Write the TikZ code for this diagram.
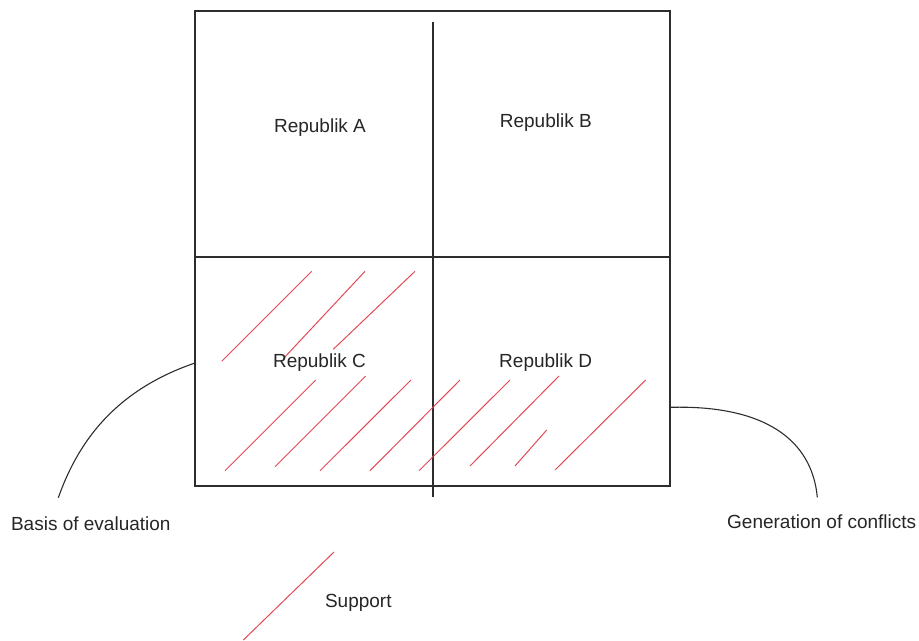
\documentclass[tikz,border=0pt]{standalone}
\usepackage{fontspec}
\setmainfont{Liberation Sans}
\usetikzlibrary{positioning}
\definecolor{hatchred}{RGB}{228,72,84}
\definecolor{framegray}{RGB}{45,45,45}

\begin{document}
\begin{tikzpicture} [x=0.5pt, y=-0.5pt, font=\fontsize{9.5}{11}\selectfont,
  tag/.style={anchor=base, inner sep=0pt, text=black!85},
  boxline/.style={draw=framegray, line width=0.65pt},
  hatch/.style={draw=hatchred, line width=0.5pt},
  lead/.style={draw=framegray, line width=0.55pt}]
\useasboundingbox (0,0) rectangle (919,641);
% the four quadrants
\draw [boxline] (195,11) rectangle (670,486);
\draw [boxline] (195,257) -- (670,257);
\draw [boxline] (433,22) -- (433,497);
% hatching
\foreach \xa/\ya/\xb/\yb in {221.7/361.3/311.7/271.3, 283.3/358.7/365/271.3, 333.3/349.3/415/271.3,
    225/470.7/315.7/380, 275/466.7/365.7/376, 320/470.7/411/380, 370/470.7/460/380,
    419/470.7/510/380, 470/466/559/376, 515/466/546.7/430, 555/470/645.7/380}
  \draw [hatch] (\xa,\ya) -- (\xb,\yb);
\node (ra) [tag] at (320,132.3) {Republik A};
\node (rb) [tag] at (545.8,127.7) {Republik B};
\node (rc) [tag] at (319.5,367.3) {Republik C};
\node (rd) [tag] at (545.7,367.3) {Republik D};
% side notes
\node (basis) [tag] at (90.8,530) {Basis of evaluation};
\node (conf) [tag] at (821.7,528.3) {Generation of conflicts};
\coordinate (bl) at (195,363);
\coordinate (br) at (671,407.3);
\coordinate (be) at (58.3,497.7);
\coordinate (ce) at (817.3,497.3);
\draw [lead] (bl) .. controls (110,392) and (76,448) .. (be);
\draw [lead] (br) .. controls (765,405) and (812,440) .. (ce);
% legend
\coordinate (s1) at (243.3,640);
\coordinate (s2) at (334,552);
\draw [hatch] (s1) -- (s2);
\node (sup) [tag] at (358.3,607.7) {Support};
\end{tikzpicture}
\end{document}
